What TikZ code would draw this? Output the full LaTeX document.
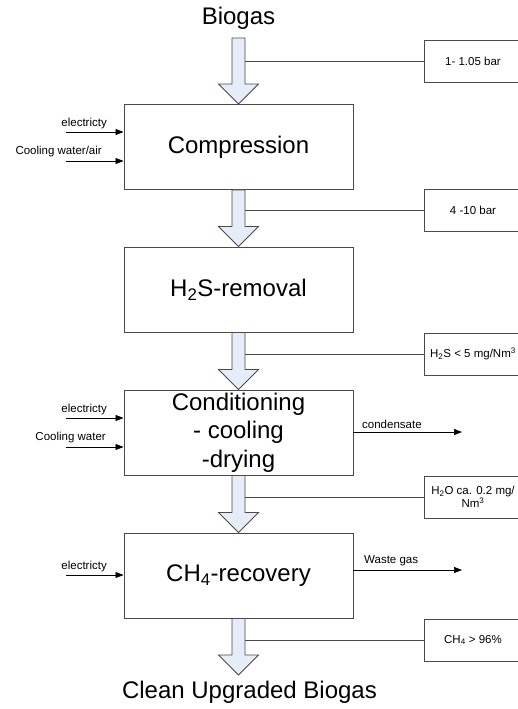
\documentclass[tikz,border=0pt]{standalone}
\usepackage{fontspec}
\setmainfont{Liberation Sans}
\usetikzlibrary{arrows.meta,calc}
\definecolor{arrowfill}{HTML}{E6EDF8}
\definecolor{edge}{HTML}{4A4A4A}
\tikzset{
  stage/.style={draw=edge, line width=0.9pt, minimum width=229pt, minimum height=85pt,
    inner sep=0pt, font=\fontsize{24}{28.5}\selectfont, align=center},
  spec/.style={draw=edge, line width=0.8pt, minimum width=98pt, minimum height=42pt,
    inner sep=0pt, font=\fontsize{11.5}{13}\selectfont, align=center},
  big/.style={font=\fontsize{24}{28}\selectfont, inner sep=0pt},
  small/.style={font=\fontsize{11.5}{13}\selectfont, inner sep=0pt},
  feed/.style={draw=black, line width=0.7pt, -{Triangle[length=8pt,width=6pt]}},
  tie/.style={draw=edge, line width=0.8pt},
  flow/.style={draw=edge, fill=arrowfill, line width=0.8pt, line join=miter},
}
% hollow block arrow from #1 (top of shaft) to #2 (tip)
\newcommand\flowarrow[2]{%
  \path[flow] let \p1=(#1), \p2=(#2) in
    (\x1-6.5pt,\y1) -- (\x1+6.5pt,\y1) -- (\x1+6.5pt,\y2+20pt) -- (\x1+20pt,\y2+20pt)
    -- (\x2,\y2) -- (\x1-20pt,\y2+20pt) -- (\x1-6.5pt,\y2+20pt) -- cycle;}
\begin{document}
\begin{tikzpicture}[x=1pt,y=-1pt]
  \clip (0,0) rectangle (518,709);
  \fill[white] (0,0) rectangle (518,709);

  % process stages
  \node[stage] (comp) at (238.5,147)   {Compression};
  \node[stage] (h2s)  at (238.5,289.5) {H\textsubscript{2}S-removal};
  \node[stage] (cond) at (238.5,432.5) {Conditioning\\- cooling\\-drying};
  \node[stage] (ch4)  at (238.5,575.5) {CH\textsubscript{4}-recovery};

  % inlet and outlet labels
  \node[big] (biogas) at (238.5,18) {Biogas};
  \node[big] (clean)  at (249.5,692) {Clean Upgraded Biogas};
  \coordinate (src) at (238.5,38);
  \coordinate (dst) at (238.5,675);

  % main gas flow
  \flowarrow{src}{comp.north}
  \flowarrow{comp.south}{h2s.north}
  \flowarrow{h2s.south}{cond.north}
  \flowarrow{cond.south}{ch4.north}
  \flowarrow{ch4.south}{dst}

  % gas state specifications
  \node[spec] (r1) at (473,61)    {1- 1.05 bar};
  \node[spec] (r2) at (473,210.5) {4 -10 bar};
  \node[spec] (r3) at (473,354)   {H\textsubscript{2}S < 5 mg/Nm\textsuperscript{3}};
  \node[spec] (r4) at (473,497)   {H\textsubscript{2}O ca. 0.2 mg/\\Nm\textsuperscript{3}};
  \node[spec] (r5) at (473,640)   {CH\textsubscript{4} > 96\%};
  \coordinate (shaft) at (245,0);
  \foreach \r in {r1,r2,r3,r4,r5}
    \draw[tie] (\r.west) -- (\r.west -| shaft);

  % utilities into compression
  \coordinate (u1) at (66,132);
  \coordinate (u2) at (66,161);
  \draw[feed] (u1) -- (u1 -| comp.west);
  \draw[feed] (u2) -- (u2 -| comp.west);
  \node[small, anchor=east] (u1l) at (107,124) {electricty};
  \node[small, anchor=east] (u2l) at (102,152) {Cooling water/air};

  % utilities into conditioning
  \coordinate (u3) at (66,418);
  \coordinate (u4) at (66,447);
  \draw[feed] (u3) -- (u3 -| cond.west);
  \draw[feed] (u4) -- (u4 -| cond.west);
  \node[small, anchor=east] (u3l) at (107,410) {electricty};
  \node[small, anchor=east] (u4l) at (106,438) {Cooling water};

  % condensate out
  \coordinate (o1) at (462,432);
  \draw[feed] (o1 -| cond.east) -- (o1);
  \node[small, anchor=west] (o1l) at (362,424) {condensate};

  % utilities and waste gas at CH4 recovery
  \coordinate (u5) at (66,575);
  \draw[feed] (u5) -- (u5 -| ch4.west);
  \node[small, anchor=east] (u5l) at (107,567) {electricty};
  \coordinate (o2) at (462,570);
  \draw[feed] (o2 -| ch4.east) -- (o2);
  \node[small, anchor=west] (o2l) at (364,561) {Waste gas};
\end{tikzpicture}
\end{document}
